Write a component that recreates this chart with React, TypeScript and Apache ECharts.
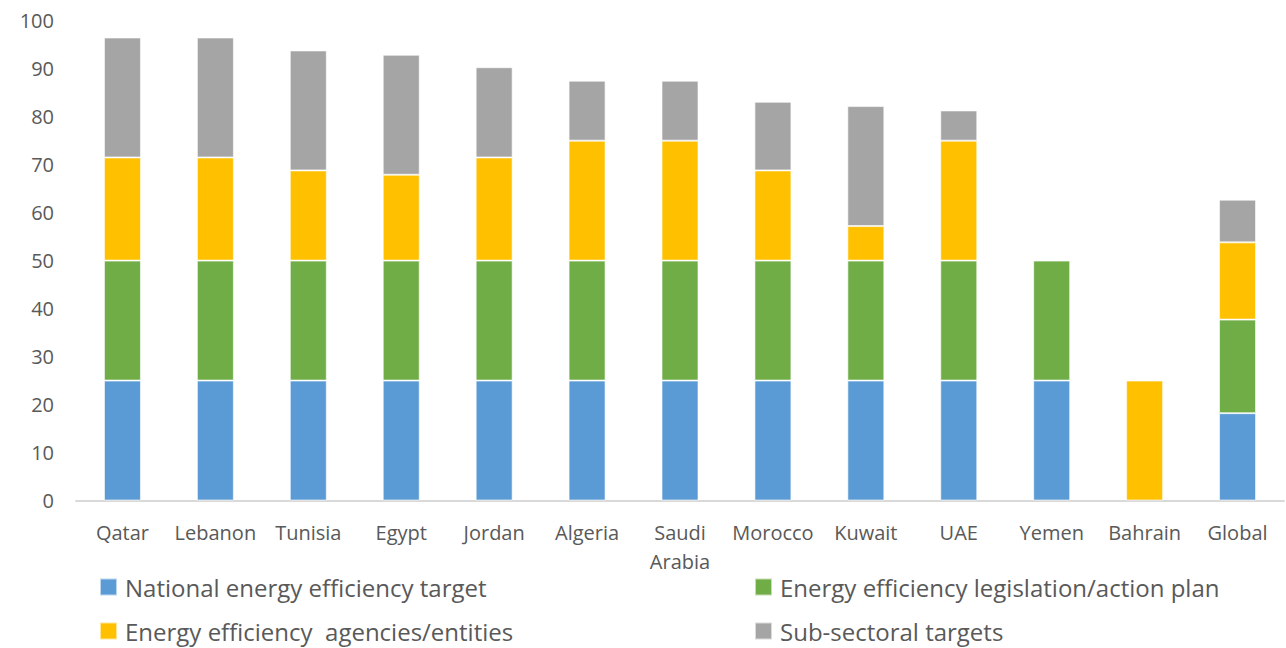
import React, { useEffect, useRef } from "react";
import * as echarts from "echarts";

const categories = ["Qatar", "Lebanon", "Tunisia", "Egypt", "Jordan", "Algeria", "Saudi\nArabia", "Morocco", "Kuwait", "UAE", "Yemen", "Bahrain", "Global"];
const nationalTarget = [25, 25, 25, 25, 25, 25, 25, 25, 25, 25, 25, 0, 18.2];
const legislation = [25, 25, 25, 25, 25, 25, 25, 25, 25, 25, 25, 0, 19.5];
const agencies = [21.5, 21.5, 18.8, 17.9, 21.5, 25, 25, 18.8, 7.2, 25, 0, 25, 16.1];
const subSectoral = [25, 25, 25, 25, 18.8, 12.5, 12.5, 14.3, 25, 6.3, 0, 0, 8.9];
const yTicks = { min: 0, max: 100, interval: 10 };

const seriesDefs = [
  { name: "National energy efficiency target", data: nationalTarget, color: "#5B9BD5" },
  { name: "Energy efficiency legislation/action plan", data: legislation, color: "#70AD47" },
  { name: "Energy efficiency  agencies/entities", data: agencies, color: "#FFC000" },
  { name: "Sub-sectoral targets", data: subSectoral, color: "#A5A5A5" },
];

const FONT = "Open Sans";
const TEXT = "#595959";

export default function App() {
  const ref = useRef<HTMLDivElement>(null);
  useEffect(() => {
    if (!ref.current) return;
    const chart = echarts.init(ref.current, null, { renderer: "svg" });
    const legendCommon = {
      orient: "vertical" as const,
      top: 575,
      height: 120,
      padding: 0,
      itemWidth: 17,
      itemHeight: 17,
      itemGap: 20,
      icon: "rect",
      textStyle: { fontFamily: FONT, fontSize: 24, lineHeight: 24, color: TEXT, padding: [0, 0, 0, 3] },
    };
    chart.setOption({
      animation: false,
      backgroundColor: "#fff",
      textStyle: { fontFamily: FONT },
      grid: { left: 76, right: 2, top: 20.7, bottom: 147.5, containLabel: false },
      legend: [
        { ...legendCommon, left: 99, data: [seriesDefs[0].name, seriesDefs[2].name] },
        { ...legendCommon, left: 754, data: [seriesDefs[1].name, seriesDefs[3].name] },
      ],
      xAxis: {
        type: "category",
        data: categories,
        axisLine: { lineStyle: { color: "#D9D9D9", width: 2 } },
        axisTick: { show: false },
        axisLabel: { fontFamily: FONT, fontSize: 20, color: TEXT, margin: 17, lineHeight: 29, interval: 0 },
      },
      yAxis: {
        type: "value",
        min: yTicks.min,
        max: yTicks.max,
        interval: yTicks.interval,
        splitLine: { show: false },
        axisLine: { show: false },
        axisTick: { show: false },
        axisLabel: { fontFamily: FONT, fontSize: 20, color: TEXT, margin: 22 },
      },
      series: seriesDefs.map((s) => ({
        name: s.name,
        type: "bar",
        stack: "total",
        barWidth: 37,
        data: s.data.map((v) => (v === 0 ? "-" : v)),
        itemStyle: { color: s.color, borderColor: "rgba(255,255,255,0.6)", borderWidth: 1 },
      })),
    });
    return () => chart.dispose();
  }, []);
  return <div ref={ref} style={{ width: 1286, height: 648, position: "absolute", left: 0, top: 0 }} />;
}
